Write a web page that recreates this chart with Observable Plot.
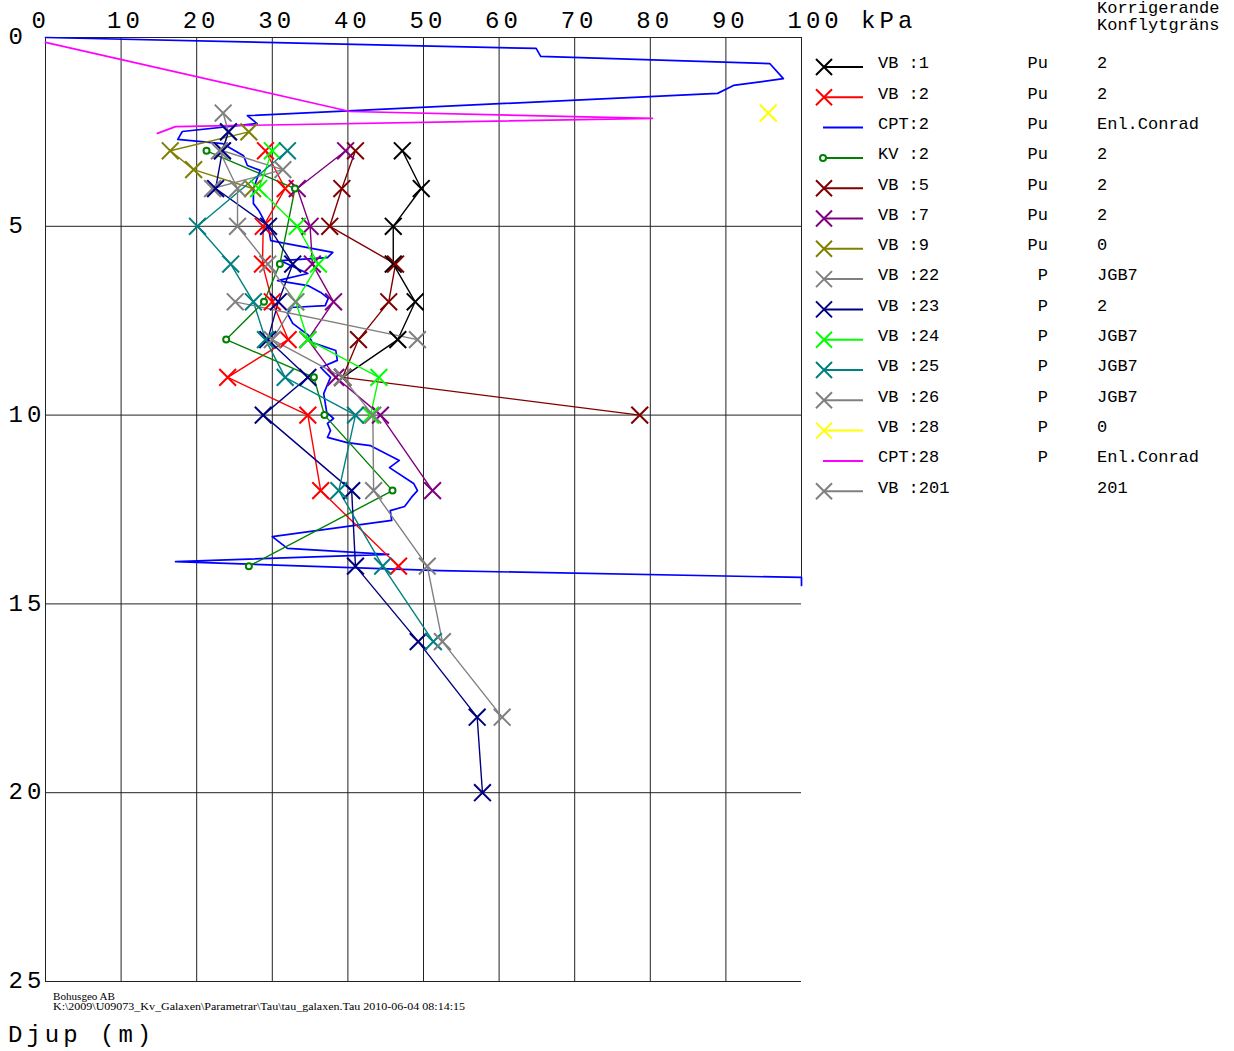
<!DOCTYPE html>
<html><head><meta charset="utf-8">
<script src="https://cdn.jsdelivr.net/npm/d3@7"></script>
<script src="https://cdn.jsdelivr.net/npm/@observablehq/plot@0.6"></script>
<style>
body{margin:0;background:#fff;}
#wrap{position:relative;width:1234px;height:1051px;overflow:hidden;background:#fff;}
#wrap svg{position:absolute;left:0;top:0;}
</style></head><body><div id="wrap"></div>
<script>
// ---------- axis ticks ----------
const xTicks = [0,10,20,30,40,50,60,70,80,90,100];
const xTickLabels = ["0","10","20","30","40","50","60","70","80","90","100 kPa"];
const yTicks = [0,5,10,15,20,25];
const yTickLabels = ["0","5","10","15","20","25"];

// ---------- legend ----------
const seriesNames  = ["VB :1","VB :2","CPT:2","KV :2","VB :5","VB :7","VB :9","VB :22","VB :23","VB :24","VB :25","VB :26","VB :28","CPT:28","VB :201"];
const seriesColors = ["#000000","#ff0000","#0000ff","#008000","#800000","#800080","#808000","#808080","#000080","#00ff00","#008080","#808080","#ffff00","#ff00ff","#808080"];
const seriesMarkers= ["x","x","none","o","x","x","x","x","x","x","x","x","x","none","x"];
const seriesTypes  = ["Pu","Pu","Pu","Pu","Pu","Pu","Pu","P","P","P","P","P","P","P",""];
const seriesLimits = ["2","2","Enl.Conrad","2","2","2","0","JGB7","2","JGB7","JGB7","JGB7","0","Enl.Conrad","201"];

// ---------- data: depth (m) and shear strength tau (kPa) ----------
const vb1Depth = [3,4,5,6,7,8,9];
const vb1Tau   = [47.2,49.7,46.0,46.0,48.9,46.6,39.3];
const vb2Depth = [3,4,5,6,7,8,9,10,12,14];
const vb2Tau   = [29.1,31.7,28.8,28.7,30.0,32.1,24.1,34.7,36.4,46.7];
const cpt2Depth = [0,0.29,0.50,0.69,1.09,1.27,1.48,2.07,2.28,2.49,2.70,2.81,3.13,3.39,3.52,4.0,4.4,4.58,5.06,5.38,5.69,5.83,5.91,6.25,6.44,6.57,6.75,6.91,7.10,7.15,7.31,7.57,7.89,8.08,8.29,8.55,8.74,9.0,9.43,9.93,10.09,10.22,10.41,10.59,10.73,10.81,11.2,11.39,11.81,12.0,12.18,12.42,12.53,12.79,13.22,13.53,13.69,13.88,14.12,14.30,14.51];
const cpt2Tau   = [0,64.9,65.5,95.8,97.6,91.0,88.9,26.7,28.0,18.1,17.5,23.4,26.2,26.7,28.4,27.5,27.5,28.2,29.5,29.8,38.0,37.3,31.1,34.7,30.7,34.7,36.4,37.4,37.0,32.4,32.0,32.7,34.8,35.3,38.4,38.6,36.4,37.7,36.8,37.2,38.1,37.3,37.7,37.3,39.9,43.0,46.8,45.5,48.7,49.2,48.4,47.5,45.6,45.8,30.0,32.0,45.4,17.2,52.2,100,100];
const kv2Depth = [3,4,6,7,8,9,10,12,14];
const kv2Tau   = [21.3,33.0,31.0,28.9,23.9,35.5,36.9,45.9,26.9];
const vb5Depth = [3,4,5,6,7,8,9,10];
const vb5Tau   = [41.0,39.2,37.6,46.3,45.4,41.4,39.3,78.6];
const vb7Depth = [3,4,5,6,7,8,9,10,12];
const vb7Tau   = [39.7,33.3,35.0,35.3,38.1,34.7,38.4,44.3,51.2];
const vb9Depth = [2.5,3,3.5,4];
const vb9Tau   = [26.9,16.5,19.6,27.4];
const vb22Depth = [2,2.5,3,3.5,4];
const vb22Tau   = [23.5,24.2,23.4,31.4,22.1];
const vb23Depth = [2.5,3,4,5,6,7,8,9,10,12,14,16,18,20];
const vb23Tau   = [24.2,23.4,22.5,29.5,32.7,30.8,29.4,34.7,28.8,40.5,41.0,49.3,57.1,57.8];
const vb24Depth = [3,4,5,6,7,8,9,10];
const vb24Tau   = [30.0,28.2,33.3,36.1,33.1,34.7,44.1,43.0];
const vb25Depth = [3,5,6,7,8,9,10,12,14,16];
const vb25Tau   = [32.0,20.1,24.5,27.5,29.1,31.7,41.0,38.8,44.6,51.3];
const vb26Depth = [3,4,5,6,7,8,9,10,12,14,16,18];
const vb26Tau   = [23.0,25.4,25.4,29.4,33.1,30.0,39.3,43.3,43.4,50.5,52.5,60.4];
const vb28Depth = [2];
const vb28Tau   = [95.6];
const cpt28Depth = [0.13,1.96,2.14,2.36,2.54];
const cpt28Tau   = [0,40.3,80.3,17.2,14.8];
const vb201Depth = [7,8];
const vb201Tau   = [25.1,49.2];

const seriesDepths = [vb1Depth,vb2Depth,cpt2Depth,kv2Depth,vb5Depth,vb7Depth,vb9Depth,vb22Depth,vb23Depth,vb24Depth,vb25Depth,vb26Depth,vb28Depth,cpt28Depth,vb201Depth];
const seriesTaus   = [vb1Tau,vb2Tau,cpt2Tau,kv2Tau,vb5Tau,vb7Tau,vb9Tau,vb22Tau,vb23Tau,vb24Tau,vb25Tau,vb26Tau,vb28Tau,cpt28Tau,vb201Tau];

const rows = [];
seriesNames.forEach((name, s) => {
  seriesDepths[s].forEach((d, i) => rows.push({series: name, marker: seriesMarkers[s], depth: d, tau: seriesTaus[s][i]}));
});

const W = 1234, H = 1051;
const MONO = "'Liberation Mono','Courier New',monospace";

const chart = Plot.plot({
  width: W, height: H,
  marginLeft: 45, marginRight: 433, marginTop: 37, marginBottom: 70,
  className: "chart",
  style: {background: "#fff", fontFamily: MONO},
  x: {domain: [0, 100], axis: null},
  y: {domain: [0, 25], reverse: true, axis: null},
  color: {domain: seriesNames, range: seriesColors},
  marks: [
    Plot.ruleX(xTicks.filter(d => d < 100), {stroke: "#222", strokeWidth: 1}),
    Plot.ruleX([100], {y1: 0, y2: 14.51, stroke: "#222", strokeWidth: 1}),
    Plot.ruleY(yTicks, {x1: 0, x2: 100, stroke: "#222", strokeWidth: 1}),
    Plot.line(rows.filter(d => d.series.startsWith("CPT")), {x: "tau", y: "depth", z: "series", stroke: "series", strokeWidth: 1.7, curve: "linear"}),
    Plot.line(rows.filter(d => !d.series.startsWith("CPT")), {x: "tau", y: "depth", z: "series", stroke: "series", strokeWidth: 1.4, curve: "linear"}),
    Plot.dot(rows.filter(d => d.marker === "x"), {x: "tau", y: "depth", stroke: "series", symbol: "times", r: 7.7, strokeWidth: 2}),
    Plot.dot(rows.filter(d => d.marker === "o"), {x: "tau", y: "depth", stroke: "series", fill: "white", symbol: "circle", r: 3, strokeWidth: 2}),
    Plot.text(xTicks, {x: d => d, y: 0, text: (d, i) => xTickLabels[i], textAnchor: "start", dx: -14, dy: -17, fontSize: 24, fill: "#000", className: "axislbl"}),
    Plot.text(yTicks, {x: 0, y: d => d, text: (d, i) => yTickLabels[i], textAnchor: "start", dx: -37, dy: -1, fontSize: 24, fill: "#000", className: "axislbl"})
  ]
});
document.getElementById("wrap").appendChild(chart);
chart.querySelectorAll(".axislbl text, text.axislbl").forEach(t => t.style.letterSpacing = "4px");

// ---------- legend + footer overlay ----------
const svg = d3.select("#wrap").append("svg").attr("width", W).attr("height", H)
  .style("pointer-events", "none").style("font-family", MONO);

svg.append("text").attr("x", 1097).attr("y", 12.5).attr("font-size", 17).text("Korrigerande");
svg.append("text").attr("x", 1097).attr("y", 30).attr("font-size", 17).text("Konflytgräns");

seriesNames.forEach((name, i) => {
  const ly = 67 + i * 30.3, ty = 68.3 + i * 30.3;
  const c = seriesColors[i], m = seriesMarkers[i];
  const g = svg.append("g");
  g.append("line").attr("x1", m === "none" ? 823 : 824).attr("x2", 863).attr("y1", ly).attr("y2", ly)
    .attr("stroke", c).attr("stroke-width", 2);
  if (m === "x") {
    g.append("path").attr("d", `M${824-8},${ly-8}L${824+8},${ly+8}M${824-8},${ly+8}L${824+8},${ly-8}`)
      .attr("stroke", c).attr("stroke-width", 2).attr("fill", "none");
  } else if (m === "o") {
    g.append("circle").attr("cx", 823).attr("cy", ly).attr("r", 3).attr("stroke", c).attr("stroke-width", 2).attr("fill", "white");
  }
  g.append("text").attr("x", 878).attr("y", ty).attr("font-size", 17).text(name);
  g.append("text").attr("x", 1048).attr("y", ty).attr("font-size", 17).attr("text-anchor", "end").text(seriesTypes[i]);
  g.append("text").attr("x", 1097).attr("y", ty).attr("font-size", 17).text(seriesLimits[i]);
});

svg.append("text").attr("x", 53).attr("y", 999.5).attr("font-size", 10)
  .style("font-family", "'Liberation Serif',serif").attr("textLength", 62).attr("lengthAdjust", "spacingAndGlyphs")
  .text("Bohusgeo AB");
svg.append("text").attr("x", 53).attr("y", 1010).attr("font-size", 10)
  .style("font-family", "'Liberation Serif',serif").attr("textLength", 412).attr("lengthAdjust", "spacingAndGlyphs")
  .text("K:\\2009\\U09073_Kv_Galaxen\\Parametrar\\Tau\\tau_galaxen.Tau  2010-06-04 08:14:15");
svg.append("text").attr("x", 8).attr("y", 1042).attr("font-size", 24).style("letter-spacing", "4px")
  .text("Djup (m)");
</script></body></html>
